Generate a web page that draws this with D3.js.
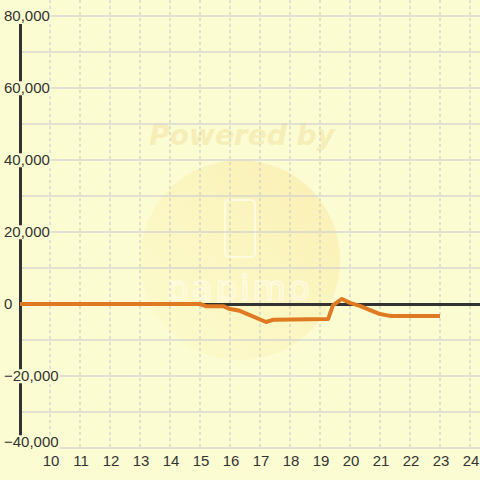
<!DOCTYPE html>
<html><head><meta charset="utf-8">
<script src="https://cdn.jsdelivr.net/npm/d3@7"></script>
<style>html,body{margin:0;padding:0;background:#fcfcd2;}svg{display:block;}</style>
</head><body>
<svg id="c" width="480" height="480"></svg>
<script>
const hours  = [9, 15, 15.2, 15.77, 16.0, 16.33, 17.2, 17.43, 19.27, 19.43, 19.73, 20.0, 20.33, 20.67, 21.0, 21.33, 23.0];
const values = [0, 0, -600, -600, -1400, -1900, -5000, -4400, -4200, -400, 1400, 300, -500, -1700, -2800, -3300, -3300];
const xTicks = [10,11,12,13,14,15,16,17,18,19,20,21,22,23,24];
const yTicks = [80000,60000,40000,20000,0,-20000,-40000];
const yGrid = [80000,70000,60000,50000,40000,30000,20000,10000,0,-10000,-20000,-30000,-40000];

const svg = d3.select("#c");
const x = d3.scaleLinear().domain([9, 24 + 1/3]).range([20, 480]);
const y = d3.scaleLinear().domain([-40000, 80000]).range([448, 16]);

svg.append("rect").attr("width",480).attr("height",480).attr("fill","#fcfcd2");

// watermark
const defs = svg.append("defs");
const g = defs.append("linearGradient").attr("id","wm").attr("x1","0").attr("y1","1").attr("x2","1").attr("y2","0");
g.append("stop").attr("offset","0").attr("stop-color","#fdfbcc");
g.append("stop").attr("offset","1").attr("stop-color","#f8e9a4");
const wm = svg.append("g");
wm.append("circle").attr("cx",240).attr("cy",260).attr("r",100).attr("fill","url(#wm)").attr("opacity",0.65);
wm.append("text").attr("x",242).attr("y",145).attr("text-anchor","middle")
  .attr("font-family","DejaVu Sans, sans-serif").attr("font-weight","bold").attr("font-style","italic")
  .attr("font-size",28).attr("fill","#f3e6a8").attr("opacity",0.6).text("Powered by");
wm.append("rect").attr("x",225).attr("y",200).attr("width",30).attr("height",57).attr("rx",4)
  .attr("fill","none").attr("stroke","#fffbe0").attr("stroke-width",2);
wm.append("text").attr("x",240).attr("y",300).attr("text-anchor","middle")
  .attr("font-family","DejaVu Sans, sans-serif").attr("font-size",34).attr("letter-spacing",3)
  .attr("fill","none").attr("stroke","#fffbe0").attr("stroke-width",1.5).text("papimo");

// horizontal grid
svg.append("g").selectAll("line").data(yGrid).join("line")
  .attr("x1",20).attr("x2",480).attr("y1",d=>y(d)).attr("y2",d=>y(d))
  .attr("stroke","#c6c6d2").attr("stroke-width",1.2);

// vertical dashed grid
svg.append("g").selectAll("line").data(xTicks).join("line")
  .attr("x1",d=>x(d)).attr("x2",d=>x(d)).attr("y1",0).attr("y2",448)
  .attr("stroke","#c4c4c4").attr("stroke-width",1).attr("stroke-dasharray","3,3");

// y axis
svg.append("line").attr("x1",20.5).attr("x2",20.5).attr("y1",24).attr("y2",436)
  .attr("stroke","#333").attr("stroke-width",3);
// zero line
svg.append("line").attr("x1",20).attr("x2",480).attr("y1",y(0)+0.5).attr("y2",y(0)+0.5)
  .attr("stroke","#333").attr("stroke-width",3);

// data line
const line = d3.line().x((d,i)=>x(hours[i])).y(d=>y(d));
svg.append("path").attr("d",line(values)).attr("fill","none")
  .attr("stroke","#e07a22").attr("stroke-width",4).attr("stroke-linejoin","round");

// y labels with background
const fmt = d3.format(",");
const yl = svg.append("g").selectAll("g").data(yTicks).join("g")
  .attr("transform",d=>`translate(0,${Math.min(y(d), 442)})`);
yl.each(function(d){
  const gg = d3.select(this);
  const t = gg.append("text").attr("x",4).attr("y",0).attr("dy","0.35em")
    .attr("font-family","Liberation Sans, Arial, sans-serif").attr("font-size",15)
    .attr("fill","#333").text(fmt(d));
  const bb = t.node().getBBox();
  gg.insert("rect","text").attr("x",bb.x-1).attr("y",bb.y+2).attr("width",bb.width+2).attr("height",bb.height-3)
    .attr("fill","#fcfcd2");
});

// x labels
svg.append("g").selectAll("text").data(xTicks).join("text")
  .attr("x",d=>x(d)+1).attr("y",461).attr("dy","0.35em").attr("text-anchor","middle")
  .attr("font-family","Liberation Sans, Arial, sans-serif").attr("font-size",15)
  .attr("fill","#333").text(d=>d);
</script>
</body></html>
